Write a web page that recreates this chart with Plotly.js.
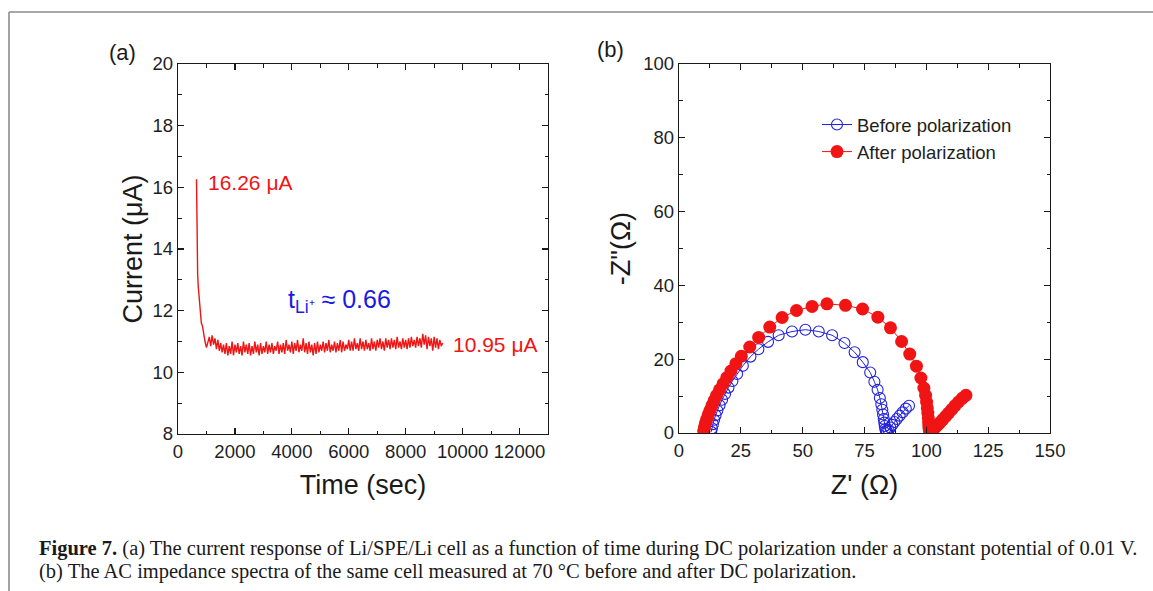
<!DOCTYPE html>
<html>
<head>
<meta charset="utf-8">
<script src="https://cdn.plot.ly/plotly-3.0.1.min.js"></script>
<style>
html,body{margin:0;padding:0;background:#fff;}
#chart{width:1153px;height:591px;}
</style>
</head>
<body>
<div id="chart"></div>
<script>
// ---------- Panel (a): current vs time ----------
const decayTime = [650, 660, 670, 690, 710, 740, 780, 820, 860, 900, 950, 1000, 1050];
const decayCurrent = [16.26, 15.0, 14.0, 13.2, 12.8, 12.4, 12.0, 11.6, 11.5, 11.2, 11.0, 10.8, 11.0];
const plateauStart = 1100;   // s
const plateauStep = 50;      // s
const plateauCurrent = [
  11.15,10.85,11.2,10.9,11.1,10.75,11.05,10.7,10.95,10.65,
  10.9,10.6,10.95,10.55,10.85,10.6,11.0,10.55,10.9,10.65,
  10.95,10.6,10.85,10.55,11.0,10.65,10.9,10.6,10.95,10.55,
  10.85,10.6,11.0,10.65,10.9,10.55,10.95,10.6,10.85,10.65,
  11.0,10.6,10.9,10.65,10.95,10.6,10.85,10.7,11.0,10.6,
  10.9,10.65,10.95,10.6,11.05,10.7,10.9,10.65,11.0,10.6,
  10.95,10.7,11.05,10.65,10.9,10.7,11.1,10.65,10.95,10.6,
  11.0,10.65,10.9,10.55,10.95,10.6,11.0,10.65,10.9,10.7,
  11.0,10.65,10.95,10.7,11.05,10.65,10.9,10.7,11.0,10.65,
  10.95,10.7,11.05,10.65,11.0,10.7,10.9,10.75,11.05,10.7,
  11.0,10.7,11.1,10.75,10.95,10.7,11.1,10.75,11.0,10.7,
  11.05,10.75,10.95,10.7,11.1,10.75,11.0,10.7,11.05,10.8,
  11.1,10.75,11.0,10.7,11.1,10.8,11.05,10.75,11.1,10.8,
  11.05,10.75,11.15,10.8,11.0,10.75,11.1,10.8,11.05,10.75,
  11.1,10.8,11.15,10.85,11.05,10.8,11.15,10.85,11.1,10.8,
  11.25,10.9,11.2,10.75,11.15,10.85,11.1,10.7,11.15,10.8,
  11.1,10.75,11.05,10.85,10.95
];
const xTicksA = [0, 2000, 4000, 6000, 8000, 10000, 12000];
const yTicksA = [8, 10, 12, 14, 16, 18, 20];

// ---------- Panel (b): Nyquist plot ----------
const beforeZre = [13.0,13.3,13.7,14.2,14.8,15.5,16.4,17.4,18.6,20.0,21.6,23.5,25.8,28.9,32.1,36.0,40.3,45.7,51.1,56.5,61.9,66.9,71.0,74.3,77.3,79.0,80.3,81.2,81.8,82.2,82.5,82.8,83.0,83.2,83.4,83.7,84.1,84.7,85.4,86.2,87.1,88.1,89.2,90.4,91.7,93.0];
const beforeZim = [0.3,1.3,2.4,3.6,4.8,6.1,7.5,9.0,10.6,12.3,14.1,16.0,18.2,20.7,22.7,24.7,26.5,27.5,28.0,27.5,26.5,24.4,21.9,19.2,16.4,13.9,11.7,9.5,7.8,6.3,5.0,3.8,2.8,1.9,1.1,0.6,0.5,0.9,1.5,2.2,3.0,3.8,4.7,5.6,6.6,7.4];
const afterZre = [10.0,10.3,10.7,11.2,11.8,12.5,13.3,14.2,15.2,16.4,17.8,19.3,21.0,23.0,25.2,28.6,32.2,36.7,41.7,47.5,53.8,59.8,67.3,74.2,80.4,85.5,90.0,93.3,96.0,97.8,99.0,99.7,100.1,100.4,100.6,100.8,100.9,101.0,101.1,101.3,101.6,102.1,102.8,103.6,104.5,105.5,106.6,107.8,109.0,110.3,111.6,113.0,114.5,116.0];
const afterZim = [0.5,1.5,2.6,3.7,4.9,6.1,7.4,8.8,10.2,11.7,13.3,15.0,16.8,18.8,20.8,23.3,25.9,28.7,31.3,33.2,34.3,35.0,34.6,33.6,31.4,28.5,24.8,21.4,18.1,14.9,12.2,10.2,8.4,6.8,5.4,4.1,3.0,2.0,1.2,0.6,0.3,0.4,0.9,1.5,2.1,2.8,3.6,4.5,5.4,6.4,7.4,8.4,9.4,10.2];
const xTicksB = [0, 25, 50, 75, 100, 125, 150];
const yTicksB = [0, 20, 40, 60, 80, 100];
const seriesNames = ["Before polarization", "After polarization"];

// ---------- build ----------
const timeA = decayTime.concat(plateauCurrent.map((_, i) => plateauStart + i * plateauStep));
const currentA = decayCurrent.concat(plateauCurrent);

const W = 1153, H = 591;
const px = v => v / W;
const py = v => 1 - v / H;
const SANS = 'Liberation Sans, Arial, sans-serif';
const SERIF = 'Liberation Serif, Times New Roman, serif';

const axisCommon = {
  showline: true, linecolor: '#1a1a1a', linewidth: 1.3, mirror: 'allticks',
  ticks: 'inside', ticklen: 6, tickwidth: 1.2, tickcolor: '#1a1a1a',
  showgrid: false, zeroline: false,
  tickfont: {family: SANS, size: 18.5, color: '#1e1e1e'},
  title: {font: {family: SANS, size: 27, color: '#1a1a1a'}}
};

const traces = [
  {x: timeA, y: currentA, type: 'scatter', mode: 'lines', xaxis: 'x', yaxis: 'y',
   line: {color: '#f01414', width: 1.4}, showlegend: false},
  {x: beforeZre, y: beforeZim, type: 'scatter', mode: 'lines+markers', xaxis: 'x2', yaxis: 'y2',
   name: seriesNames[0],
   line: {color: '#2222dd', width: 1},
   marker: {symbol: 'circle-open', size: 11, color: '#2222dd', line: {width: 1.1, color: '#2222dd'}}},
  {x: afterZre, y: afterZim, type: 'scatter', mode: 'lines+markers', xaxis: 'x2', yaxis: 'y2',
   name: seriesNames[1],
   line: {color: '#f01414', width: 1},
   marker: {symbol: 'circle', size: 13, color: '#f01414'}}
];

const layout = {
  width: W, height: H,
  margin: {l: 0, r: 0, t: 0, b: 0},
  paper_bgcolor: '#fff', plot_bgcolor: '#fff',
  showlegend: true,
  legend: {x: px(817), y: py(106), xanchor: 'left', yanchor: 'top',
           bgcolor: 'rgba(0,0,0,0)', font: {family: SANS, size: 18.5, color: '#1e1e1e'},
           tracegroupgap: 0},
  xaxis: Object.assign({}, axisCommon, {
    domain: [px(178), px(548)], anchor: 'y', range: [0, 13000],
    tickvals: xTicksA, ticktext: xTicksA.map(String),
    minor: {ticks: 'inside', ticklen: 3.5, tickwidth: 1, tickcolor: '#1a1a1a', dtick: 1000, tick0: 0},
    title: Object.assign({}, axisCommon.title, {text: 'Time (sec)', standoff: 14})
  }),
  yaxis: Object.assign({}, axisCommon, {
    domain: [py(434), py(64)], anchor: 'x', range: [8, 20],
    tickvals: yTicksA, ticktext: yTicksA.map(String),
    minor: {ticks: 'inside', ticklen: 3.5, tickwidth: 1, tickcolor: '#1a1a1a', dtick: 1, tick0: 0},
    title: Object.assign({}, axisCommon.title, {text: 'Current (μA)', standoff: 2})
  }),
  xaxis2: Object.assign({}, axisCommon, {
    domain: [px(679), px(1050)], anchor: 'y2', range: [0, 150],
    tickvals: xTicksB, ticktext: xTicksB.map(String),
    minor: {ticks: 'inside', ticklen: 3.5, tickwidth: 1, tickcolor: '#1a1a1a', dtick: 12.5, tick0: 0},
    title: Object.assign({}, axisCommon.title, {text: "Z' (Ω)", standoff: 15})
  }),
  yaxis2: Object.assign({}, axisCommon, {
    domain: [py(433), py(64)], anchor: 'x2', range: [0, 100],
    tickvals: yTicksB, ticktext: yTicksB.map(String),
    minor: {ticks: 'inside', ticklen: 3.5, tickwidth: 1, tickcolor: '#1a1a1a', dtick: 10, tick0: 0},
    title: Object.assign({}, axisCommon.title, {text: '-Z"(Ω)', standoff: 4})
  }),
  shapes: [
    {type: 'line', xref: 'paper', yref: 'paper', x0: px(9), x1: px(9), y0: 0, y1: py(12),
     line: {color: '#8c8c8c', width: 1.6}},
    {type: 'line', xref: 'paper', yref: 'paper', x0: px(9), x1: 1, y0: py(12), y1: py(12),
     line: {color: '#8c8c8c', width: 1.6}}
  ],
  annotations: [
    {xref: 'paper', yref: 'paper', x: px(122), y: py(52), xanchor: 'center', yanchor: 'middle',
     text: '(a)', showarrow: false, font: {family: SANS, size: 22, color: '#1a1a1a'}},
    {xref: 'paper', yref: 'paper', x: px(610), y: py(50), xanchor: 'center', yanchor: 'middle',
     text: '(b)', showarrow: false, font: {family: SANS, size: 22, color: '#1a1a1a'}},
    {xref: 'x', yref: 'y', x: 1000, y: 16.17, xanchor: 'left', yanchor: 'middle',
     text: '16.26 μA', showarrow: false, font: {family: SANS, size: 21, color: '#f01414'}},
    {xref: 'x', yref: 'y', x: 9600, y: 10.89, xanchor: 'left', yanchor: 'middle',
     text: '10.95 μA', showarrow: false, font: {family: SANS, size: 21, color: '#f01414'}},
    {xref: 'x', yref: 'y', x: 3800, y: 12.3, xanchor: 'left', yanchor: 'middle',
     text: 't<sub>Li⁺</sub> ≈ 0.66', showarrow: false, font: {family: SANS, size: 25, color: '#1a1ae0'}},
    {xref: 'paper', yref: 'paper', x: px(37), y: py(548), xanchor: 'left', yanchor: 'middle',
     text: '<b>Figure 7.</b> (a) The current response of Li/SPE/Li cell as a function of time during DC polarization under a constant potential of 0.01 V.',
     showarrow: false, align: 'left', font: {family: SERIF, size: 20.5, color: '#1a1a1a'}},
    {xref: 'paper', yref: 'paper', x: px(37), y: py(571), xanchor: 'left', yanchor: 'middle',
     text: '(b) The AC impedance spectra of the same cell measured at 70 °C before and after DC polarization.',
     showarrow: false, align: 'left', font: {family: SERIF, size: 20.5, color: '#1a1a1a'}}
  ]
};

Plotly.newPlot('chart', traces, layout, {staticPlot: true, displayModeBar: false});
</script>
</body>
</html>
